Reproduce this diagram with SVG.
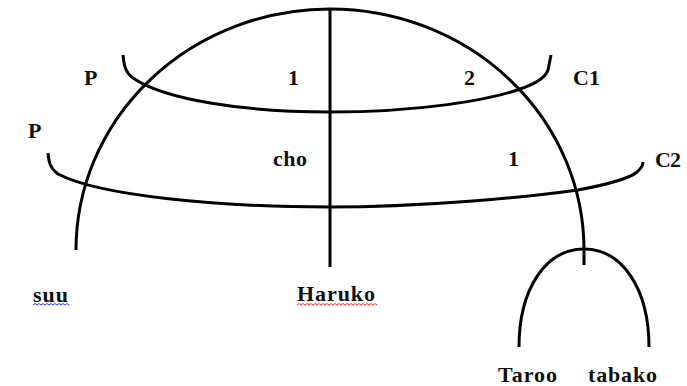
<svg xmlns="http://www.w3.org/2000/svg" width="687" height="386" viewBox="0 0 687 386">
<style>
.ln{fill:none;stroke:#000;stroke-width:3;stroke-linecap:butt}
.t{font-family:"Liberation Serif","Times New Roman",serif;font-weight:bold;font-size:22px;fill:#111}
.sq{fill:none;stroke-width:1}
</style>
<rect width="687" height="386" fill="#fff"/>
<g id="connectors">
<path class="ln" d="M76,250 A254,241 0 0 1 584,250 L584,265"/>
<path class="ln" d="M330,8 L330,267"/>
<path class="ln" d="M123,55 C124,65 125,72 133,78 C165,100 245,112 330,112 C420,112 490,100 520,89 C538,83 546,76 548,70 L551,55"/>
<path class="ln" d="M48,153 C49,163 50,168 58,174 C100,196 220,207 330,207 C420,207 520,198 578,190 C610,184 630,178 637,172 C641,168 643,166 643,162"/>
<path class="ln" d="M519,347 C519,290 545,249 584,249 C623,249 649,290 649,347"/>
</g>
<g id="node-P1"><text class="t" x="84" y="85">P</text></g>
<g id="node-1a"><text class="t" x="288" y="85">1</text></g>
<g id="node-2"><text class="t" x="464" y="85">2</text></g>
<g id="node-C1"><text class="t" x="573" y="85" textLength="27" lengthAdjust="spacing">C1</text></g>
<g id="node-P2"><text class="t" x="28" y="138">P</text></g>
<g id="node-cho"><text class="t" x="273" y="166" textLength="34" lengthAdjust="spacing">cho</text></g>
<g id="node-1b"><text class="t" x="508" y="166">1</text></g>
<g id="node-C2"><text class="t" x="655" y="167" textLength="26" lengthAdjust="spacing">C2</text></g>
<g id="node-suu"><text class="t" x="33" y="302" textLength="35" lengthAdjust="spacing">suu</text>
<path class="sq" stroke="#3030ff" d="M33,305 l2,-1.5 l2,1.5 l2,-1.5 l2,1.5 l2,-1.5 l2,1.5 l2,-1.5 l2,1.5 l2,-1.5 l2,1.5 l2,-1.5 l2,1.5 l2,-1.5 l2,1.5 l2,-1.5 l2,1.5 l2,-1.5 l2,1.5"/></g>
<g id="node-Haruko"><text class="t" x="297" y="301" textLength="78" lengthAdjust="spacing">Haruko</text>
<path class="sq" stroke="#ff3030" d="M297,305 l2,-1.5 l2,1.5 l2,-1.5 l2,1.5 l2,-1.5 l2,1.5 l2,-1.5 l2,1.5 l2,-1.5 l2,1.5 l2,-1.5 l2,1.5 l2,-1.5 l2,1.5 l2,-1.5 l2,1.5 l2,-1.5 l2,1.5 l2,-1.5 l2,1.5 l2,-1.5 l2,1.5 l2,-1.5 l2,1.5 l2,-1.5 l2,1.5 l2,-1.5 l2,1.5 l2,-1.5 l2,1.5 l2,-1.5 l2,1.5 l2,-1.5 l2,1.5 l2,-1.5 l2,1.5 l2,-1.5 l2,1.5 l2,-1.5 l2,1.5"/></g>
<g id="node-Taroo"><text class="t" x="498" y="382" textLength="59" lengthAdjust="spacing">Taroo</text></g>
<g id="node-tabako"><text class="t" x="588" y="382" textLength="69" lengthAdjust="spacing">tabako</text></g>
</svg>
